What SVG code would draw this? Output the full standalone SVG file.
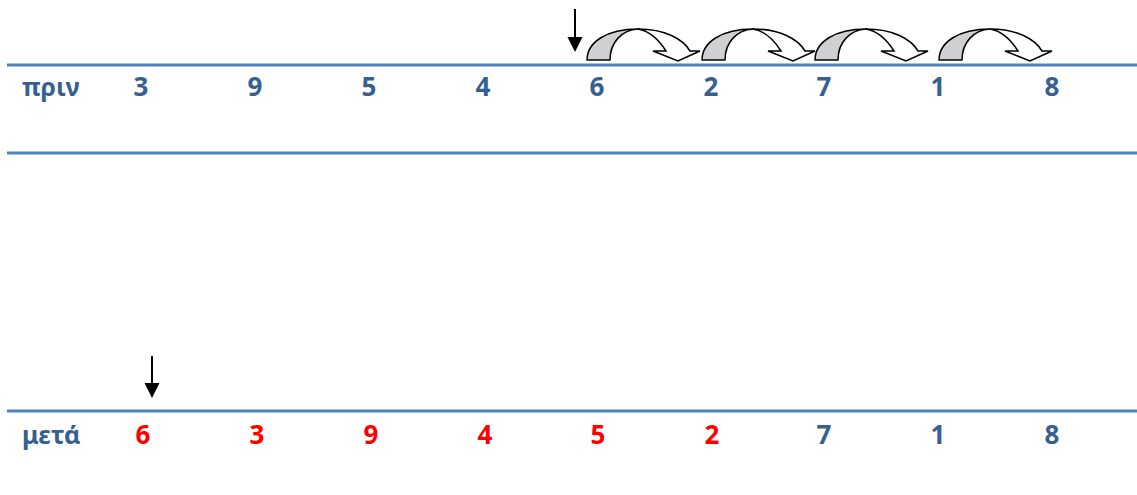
<svg xmlns="http://www.w3.org/2000/svg" width="1137" height="495" viewBox="0 0 1137 495">
  <style>
    .rule { stroke: #4F81BD; stroke-width: 3; fill: none; }
    .lbl { font-family: "Noto Sans", "Open Sans", "DejaVu Sans", sans-serif; font-weight: bold; font-size: 25px; fill: #376092; }
    .num { font-family: "Noto Sans", "Open Sans", "DejaVu Sans", sans-serif; font-weight: bold; font-size: 26px; fill: #376092; text-anchor: middle; }
    .moved { fill: #FF0000; }
    .ptr { stroke: #000; stroke-width: 2; fill: none; }
    .tip { fill: #000; }
    .back { fill: #D0D0D0; stroke: #000; stroke-width: 1.5; stroke-linejoin: round; }
    .front { fill: #FFFFFF; stroke: #000; stroke-width: 1.5; stroke-linejoin: miter; }
  </style>
  <defs>
    <!-- curved "shift right" arrow, origin at left foot -->
    <g id="hop">
      <path class="back" d="M0,60 C0,42 20,29 51,29 C35,30 23,42 23,60 Z"/>
      <path class="front" d="M51,29 C78,29 96,39 103,51 L113,51 L91,61 L66,51 L79,51 C72,40 63,31 51,29 Z"/>
    </g>
  </defs>

  <g id="rules">
    <line class="rule" x1="7" y1="65" x2="1137" y2="65"/>
    <line class="rule" x1="7" y1="153" x2="1137" y2="153"/>
    <line class="rule" x1="7" y1="411" x2="1137" y2="411"/>
  </g>

  <g id="before">
    <text class="lbl" x="22" y="96">πριν</text>
    <text class="num" x="141" y="96">3</text>
    <text class="num" x="255" y="96">9</text>
    <text class="num" x="369" y="96">5</text>
    <text class="num" x="483" y="96">4</text>
    <text class="num" x="597" y="96">6</text>
    <text class="num" x="711" y="96">2</text>
    <text class="num" x="824" y="96">7</text>
    <text class="num" x="938" y="96">1</text>
    <text class="num" x="1052" y="96">8</text>
  </g>

  <g id="after">
    <text class="lbl" x="22" y="444">μετά</text>
    <text class="num moved" x="143" y="444">6</text>
    <text class="num moved" x="257" y="444">3</text>
    <text class="num moved" x="371" y="444">9</text>
    <text class="num moved" x="485" y="444">4</text>
    <text class="num moved" x="598" y="444">5</text>
    <text class="num moved" x="712" y="444">2</text>
    <text class="num" x="824" y="444">7</text>
    <text class="num" x="938" y="444">1</text>
    <text class="num" x="1052" y="444">8</text>
  </g>

  <g id="connectors">
    <line class="ptr" x1="575" y1="9" x2="575" y2="40"/>
    <path class="tip" d="M567.5,37 L582.5,37 L575,52 Z"/>
    <line class="ptr" x1="152" y1="356" x2="152" y2="386"/>
    <path class="tip" d="M144.5,383 L159.5,383 L152,398 Z"/>
    <use href="#hop" x="587" y="0"/>
    <use href="#hop" x="702" y="0"/>
    <use href="#hop" x="815" y="0"/>
    <use href="#hop" x="939" y="0"/>
  </g>
</svg>
